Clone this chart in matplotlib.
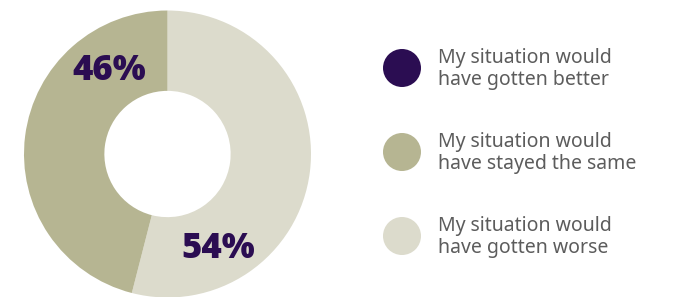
import matplotlib.pyplot as plt
from matplotlib.patches import Circle

# data
categories = ["My situation would\nhave gotten better",
              "My situation would\nhave stayed the same",
              "My situation would\nhave gotten worse"]
values = [0, 46, 54]
colors = ["#2b0d52", "#b6b592", "#dcdbcc"]
label_color = "#2b0d52"
text_color = "#5c5c5c"

fig = plt.figure(figsize=(6.81, 2.97), dpi=100)

# donut
ax = fig.add_axes([24 / 681, -0.5 / 297, 287 / 681, 287 / 297])
# draw worse (clockwise from top) then same
order = [2, 1]
wedges, _ = ax.pie([values[i] for i in order], colors=[colors[i] for i in order],
                   startangle=90, counterclock=False,
                   wedgeprops=dict(width=0.56, linewidth=0))
ax.set_aspect(1)
ax.set_xlim(-1, 1)
ax.set_ylim(-1, 1)

# percent labels
ax.text(-0.405, 0.575, f"{values[1]}%", ha="center", va="center", fontsize=25,
        fontweight="heavy", family="Open Sans", color=label_color)
ax.text(0.35, -0.66, f"{values[2]}%", ha="center", va="center", fontsize=25,
        fontweight="heavy", family="Open Sans", color=label_color)

# legend in pixel coordinates
lax = fig.add_axes([0, 0, 1, 1])
lax.set_xlim(0, 681)
lax.set_ylim(297, 0)
lax.axis("off")
for i, (cat, col) in enumerate(zip(categories, colors)):
    y = 68 + i * 84
    lax.add_patch(Circle((402, y), 19, color=col, lw=0))
    lax.text(438, y + 1, cat, ha="left", va="center", fontsize=14,
             family="Noto Sans", color=text_color, linespacing=1.2)

fig.savefig("out.png", dpi=100)
